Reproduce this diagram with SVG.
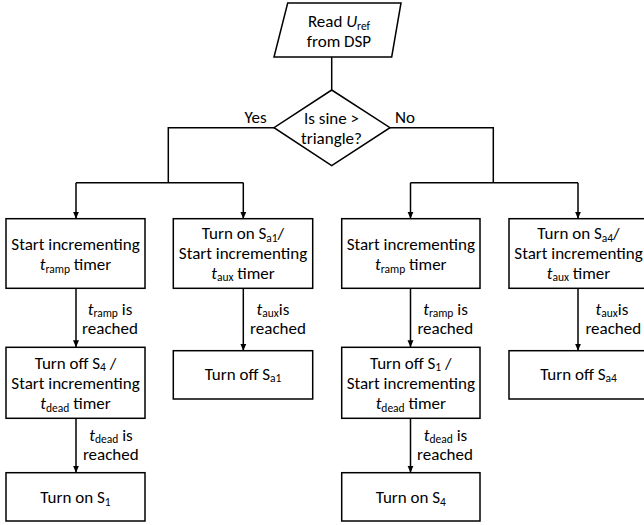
<svg xmlns="http://www.w3.org/2000/svg" width="644" height="525" viewBox="0 0 644 525">
<style>
.shape{fill:#fff;stroke:#000;stroke-width:1.5}
.line{fill:none;stroke:#000;stroke-width:1.5}
text{font-family:Carlito,Lato,"Liberation Sans",sans-serif;font-size:17px;fill:#000;text-anchor:middle}
.sub{font-size:11.5px}
.it{font-style:italic}
</style>
<defs>
<marker id="arr" markerUnits="userSpaceOnUse" markerWidth="8" markerHeight="8" refX="7" refY="3" orient="auto">
<path d="M0,0 L7,3 L0,6 z" fill="#000"/>
</marker>
</defs>
<g id="connectors">
<path class="line" d="M331.7,57 V90"/>
<path class="line" d="M274,127.7 H168.3 V182.7"/>
<path class="line" d="M76,182.7 H243.3"/>
<path class="line" d="M76,182.7 V218.7" marker-end="url(#arr)"/>
<path class="line" d="M243.3,182.7 V218.7" marker-end="url(#arr)"/>
<path class="line" d="M390,127.7 H493.3 V182.7"/>
<path class="line" d="M410.5,182.7 H578"/>
<path class="line" d="M410.5,182.7 V218.7" marker-end="url(#arr)"/>
<path class="line" d="M578,182.7 V218.7" marker-end="url(#arr)"/>
<path class="line" d="M76,288.3 V347.3" marker-end="url(#arr)"/>
<path class="line" d="M243.3,288.3 V350.7" marker-end="url(#arr)"/>
<path class="line" d="M76,418.3 V472.7" marker-end="url(#arr)"/>
<path class="line" d="M410.5,288.3 V347.3" marker-end="url(#arr)"/>
<path class="line" d="M578,288.3 V350.7" marker-end="url(#arr)"/>
<path class="line" d="M410.5,418.3 V472.7" marker-end="url(#arr)"/>
<text x="255.5" y="123">Yes</text>
<text x="405" y="123">No</text>
<text x="110" y="314.5"><tspan class="it">t</tspan><tspan class="sub" dy="2.5">ramp</tspan><tspan dy="-2.5"> is</tspan></text>
<text x="110" y="334">reached</text>
<text x="273" y="314.5"><tspan class="it">t</tspan><tspan class="sub" dy="2.5">aux</tspan><tspan dy="-2.5">is</tspan></text>
<text x="278" y="334">reached</text>
<text x="111" y="440.5"><tspan class="it">t</tspan><tspan class="sub" dy="2.5">dead</tspan><tspan dy="-2.5"> is</tspan></text>
<text x="110.8" y="460">reached</text>
<text x="445.5" y="314.5"><tspan class="it">t</tspan><tspan class="sub" dy="2.5">ramp</tspan><tspan dy="-2.5"> is</tspan></text>
<text x="445.3" y="334">reached</text>
<text x="612" y="314.5"><tspan class="it">t</tspan><tspan class="sub" dy="2.5">aux</tspan><tspan dy="-2.5">is</tspan></text>
<text x="613.3" y="334">reached</text>
<text x="445.5" y="440.5"><tspan class="it">t</tspan><tspan class="sub" dy="2.5">dead</tspan><tspan dy="-2.5"> is</tspan></text>
<text x="445" y="460">reached</text>
</g>
<g id="read">
<path class="shape" d="M287.7,3 H401 L391.7,57 H274 Z"/>
<text x="339" y="27">Read <tspan class="it">U</tspan><tspan class="sub" dy="2.5">ref</tspan></text>
<text x="339" y="47">from DSP</text>
</g>
<g id="decision">
<path class="shape" d="M331.7,90 L390,127.7 L331.7,165.7 L274,127.7 Z"/>
<text x="331.5" y="123.5">Is sine &gt;</text>
<text x="331.5" y="143.5">triangle?</text>
</g>
<g id="box1">
<rect class="shape" x="6" y="218.7" width="139" height="69.6"/>
<text x="75.5" y="250">Start incrementing</text>
<text x="75.5" y="270"><tspan class="it">t</tspan><tspan class="sub" dy="2.5">ramp</tspan><tspan dy="-2.5"> timer</tspan></text>
</g>
<g id="box2">
<rect class="shape" x="173.3" y="218.7" width="139.4" height="69.6"/>
<text x="243" y="239">Turn on S<tspan class="sub" dy="2.5">a1</tspan><tspan dy="-2.5">/</tspan></text>
<text x="243" y="259">Start incrementing</text>
<text x="243" y="278.5"><tspan class="it">t</tspan><tspan class="sub" dy="2.5">aux</tspan><tspan dy="-2.5"> timer</tspan></text>
</g>
<g id="box3">
<rect class="shape" x="341.7" y="218.7" width="138.3" height="69.6"/>
<text x="410.8" y="250">Start incrementing</text>
<text x="410.8" y="270"><tspan class="it">t</tspan><tspan class="sub" dy="2.5">ramp</tspan><tspan dy="-2.5"> timer</tspan></text>
</g>
<g id="box4">
<rect class="shape" x="509" y="218.7" width="139" height="69.6"/>
<text x="578.5" y="239">Turn on S<tspan class="sub" dy="2.5">a4</tspan><tspan dy="-2.5">/</tspan></text>
<text x="578.5" y="259">Start incrementing</text>
<text x="578.5" y="278.5"><tspan class="it">t</tspan><tspan class="sub" dy="2.5">aux</tspan><tspan dy="-2.5"> timer</tspan></text>
</g>
<g id="box5">
<rect class="shape" x="6" y="347.3" width="139" height="71"/>
<text x="75.5" y="368.5">Turn off S<tspan class="sub" dy="2.5">4</tspan><tspan dy="-2.5"> /</tspan></text>
<text x="75.5" y="388.5">Start incrementing</text>
<text x="75.5" y="409"><tspan class="it">t</tspan><tspan class="sub" dy="2.5">dead</tspan><tspan dy="-2.5"> timer</tspan></text>
</g>
<g id="box6">
<rect class="shape" x="173.3" y="350.7" width="139.4" height="48.3"/>
<text x="243" y="379.5">Turn off S<tspan class="sub" dy="2.5">a1</tspan></text>
</g>
<g id="box7">
<rect class="shape" x="6" y="472.7" width="139" height="48.3"/>
<text x="75.5" y="503">Turn on S<tspan class="sub" dy="2.5">1</tspan></text>
</g>
<g id="box8">
<rect class="shape" x="341.7" y="347.3" width="138.3" height="71"/>
<text x="410.8" y="368.5">Turn off S<tspan class="sub" dy="2.5">1</tspan><tspan dy="-2.5"> /</tspan></text>
<text x="410.8" y="388.5">Start incrementing</text>
<text x="410.8" y="409"><tspan class="it">t</tspan><tspan class="sub" dy="2.5">dead</tspan><tspan dy="-2.5"> timer</tspan></text>
</g>
<g id="box9">
<rect class="shape" x="509" y="350.7" width="139" height="48.3"/>
<text x="578.5" y="379.5">Turn off S<tspan class="sub" dy="2.5">a4</tspan></text>
</g>
<g id="box10">
<rect class="shape" x="341.7" y="472.7" width="138.3" height="48.3"/>
<text x="410.8" y="503">Turn on S<tspan class="sub" dy="2.5">4</tspan></text>
</g>
</svg>
